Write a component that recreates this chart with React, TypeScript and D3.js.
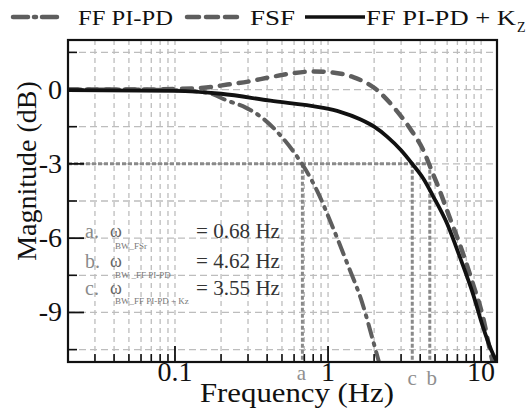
import React from "react";
import * as d3 from "d3";

const W = 530;
const H = 411;
const M = { left: 68, right: 497, top: 40, bottom: 362 };

const xDomain = [0.02, 12.7];
const yDomain = [-11, 2];

const xMajorTicks = [0.1, 1, 10];
const xMajorLabels = ["0.1", "1", "10"];
const xMinorTicks = [
  0.03, 0.04, 0.05, 0.06, 0.07, 0.08, 0.09,
  0.2, 0.3, 0.4, 0.5, 0.6, 0.7, 0.8, 0.9,
  2, 3, 4, 5, 6, 7, 8, 9,
];
const yMajorTicks = [0, -3, -6, -9];
const yMinorTicks = [1.5, -1.5, -4.5, -7.5, -10.5];

// FF PI-PD (dash-dot)
const ffFreq = [0.02, 0.05, 0.1, 0.16, 0.22, 0.29, 0.376, 0.49, 0.61, 0.7, 0.85, 1.08, 1.35, 1.67, 1.94, 2.15];
const ffMag = [0, 0, -0.03, -0.12, -0.45, -0.73, -1.17, -1.86, -2.6, -3.15, -4.1, -5.6, -7.1, -8.6, -10.0, -11.0];

// FSF (dashed)
const fsfFreq = [0.02, 0.06, 0.1, 0.16, 0.22, 0.3, 0.42, 0.58, 0.8, 1.03, 1.46, 2.03, 2.8, 3.5, 4.2, 4.75, 5.15, 6.26, 7.5, 8.9, 10.3, 11.4, 11.9];
const fsfMag = [0, 0, 0.02, 0.08, 0.2, 0.32, 0.5, 0.65, 0.73, 0.7, 0.5, 0.04, -0.85, -1.65, -2.46, -3.27, -3.8, -5.2, -6.5, -7.9, -9.2, -10.5, -11.0];

// FF PI-PD + Kz (solid)
const kzFreq = [0.02, 0.1, 0.2, 0.42, 0.89, 1.2, 1.62, 2, 2.43, 3, 3.55, 4.2, 4.85, 5.98, 7.3, 8.9, 10.3, 12, 12.7];
const kzMag = [-0.02, -0.05, -0.17, -0.45, -0.72, -0.9, -1.2, -1.5, -1.9, -2.45, -3.0, -3.6, -4.3, -5.4, -6.8, -8.3, -9.6, -10.7, -11.0];

const bwFreqs = [0.68, 4.62, 3.55];
const bwLetters = ["a", "b", "c"];
const bwSubs = ["BW_FSr", "BW _FF PI-PD", "BW_FF PI-PD + Kz"];
const bwValues = ["= 0.68 Hz", "= 4.62 Hz", "= 3.55 Hz"];
const bwLevel = -3;

const FONT = "Liberation Serif";

export default function App() {
  const x = d3.scaleLog().domain(xDomain).range([M.left, M.right]);
  const y = d3.scaleLinear().domain(yDomain).range([M.bottom, M.top]);
  const line = d3
    .line<[number, number]>()
    .x((d) => x(d[0]))
    .y((d) => y(d[1]))
    .curve(d3.curveMonotoneX);

  const ffData = ffFreq.map((f, i) => [f, ffMag[i]] as [number, number]);
  const fsfData = fsfFreq.map((f, i) => [f, fsfMag[i]] as [number, number]);
  const kzData = kzFreq.map((f, i) => [f, kzMag[i]] as [number, number]);

  const allX = [...xMinorTicks, ...xMajorTicks];
  const allY = [...yMinorTicks, ...yMajorTicks];
  const grid = "#bdbdbd";
  const refColor = "#8a8a8a";

  const annY = [238, 268, 295];
  const subY = [249, 278, 304];

  return (
    <svg width={W} height={H} style={{ position: "absolute", left: 0, top: 0, background: "#fff" }}>
      <defs>
        <clipPath id="plot">
          <rect x={M.left} y={M.top} width={M.right - M.left} height={M.bottom - M.top} />
        </clipPath>
      </defs>
      {/* grid */}
      {allX.map((t) => (
        <line key={"gx" + t} x1={x(t)} x2={x(t)} y1={M.top} y2={M.bottom} stroke={grid} strokeWidth={1.3} strokeDasharray="5,4" />
      ))}
      {allY.map((t) => (
        <line key={"gy" + t} x1={M.left} x2={M.right} y1={y(t)} y2={y(t)} stroke={grid} strokeWidth={1.3} strokeDasharray="7,4" />
      ))}

      {/* annotations */}
      {bwLetters.map((l, i) => (
        <g key={"ann" + l}>
          <text x={85} y={annY[i]} fontFamily={FONT} fontSize={20} fill="#8a8a8a">{l + "."}</text>
          <text x={110} y={annY[i] - 1} fontFamily={FONT} fontSize={18} fill="#666">ω</text>
          <text x={115} y={subY[i]} fontFamily={FONT} fontSize={9} fill="#777">{bwSubs[i]}</text>
          <text x={196} y={annY[i]} fontFamily={FONT} fontSize={20} fill="#333" textLength={84} lengthAdjust="spacingAndGlyphs">{bwValues[i]}</text>
        </g>
      ))}

      {/* reference lines */}
      <g clipPath="url(#plot)">
        <line x1={M.left} x2={x(bwFreqs[1])} y1={y(bwLevel)} y2={y(bwLevel)} stroke={refColor} strokeWidth={3} strokeDasharray="4,2" />
        {bwFreqs.map((f) => (
          <line key={"v" + f} x1={x(f)} x2={x(f)} y1={y(bwLevel)} y2={M.bottom} stroke={refColor} strokeWidth={3} strokeDasharray="4,2" />
        ))}
        {/* curves */}
        <path d={line(ffData) || ""} fill="none" stroke="#5e5e5e" strokeWidth={4} strokeDasharray="13,7,2,7" strokeLinecap="round" />
        <path d={line(fsfData) || ""} fill="none" stroke="#5e5e5e" strokeWidth={4.5} strokeDasharray="10,9" strokeLinecap="round" />
        <path d={line(kzData) || ""} fill="none" stroke="#111" strokeWidth={3.8} />
      </g>

      {/* ticks */}
      {xMinorTicks.map((t) => (
        <line key={"tx" + t} x1={x(t)} x2={x(t)} y1={M.bottom} y2={M.bottom - 8} stroke="#111" strokeWidth={1.6} />
      ))}
      {xMajorTicks.map((t) => (
        <line key={"tX" + t} x1={x(t)} x2={x(t)} y1={M.bottom} y2={M.bottom - 16} stroke="#111" strokeWidth={1.8} />
      ))}
      {yMinorTicks.map((t) => (
        <line key={"ty" + t} x1={M.left} x2={M.left + 9} y1={y(t)} y2={y(t)} stroke="#111" strokeWidth={1.6} />
      ))}
      {yMajorTicks.map((t) => (
        <line key={"tY" + t} x1={M.left} x2={M.left + 16} y1={y(t)} y2={y(t)} stroke="#111" strokeWidth={1.8} />
      ))}

      {/* frame */}
      <rect x={M.left} y={M.top} width={M.right - M.left} height={M.bottom - M.top} fill="none" stroke="#111" strokeWidth={2.2} />

      {/* tick labels */}
      {xMajorTicks.map((t, i) => (
        <text key={"lx" + t} x={x(t)} y={381} fontFamily={FONT} fontSize={28} textAnchor="middle" fill="#111">{xMajorLabels[i]}</text>
      ))}
      {yMajorTicks.map((t) => (
        <text key={"ly" + t} x={62} y={y(t) + 9} fontFamily={FONT} fontSize={28} textAnchor="end" fill="#111">{String(t)}</text>
      ))}
      {bwLetters.map((l, i) => (
        <text key={"bl" + l} x={x(bwFreqs[i]) + (l === "b" ? 2 : l === "a" ? -1 : 0)} y={l === "a" ? 380 : 385} fontFamily={FONT} fontSize={21} textAnchor="middle" fill="#8f8f8f">{l}</text>
      ))}

      {/* axis titles */}
      <text x={200} y={402} fontFamily={FONT} fontSize={28} fill="#111" textLength={194} lengthAdjust="spacingAndGlyphs">Frequency (Hz)</text>
      <text transform={`translate(36,171) rotate(-90)`} textAnchor="middle" fill="#111" fontFamily={FONT} fontSize={28}>
        Magnitude (dB)
      </text>

      {/* legend */}
      <line x1={13} x2={60} y1={17} y2={17} stroke="#5e5e5e" strokeWidth={4.5} strokeDasharray="15,6,2,6" strokeLinecap="round" />
      <text x={78} y={25} fontFamily={FONT} fontSize={22} fill="#111" textLength={95} lengthAdjust="spacingAndGlyphs">FF PI-PD</text>
      <line x1={187} x2={238} y1={17} y2={17} stroke="#5e5e5e" strokeWidth={4.5} strokeDasharray="12,7" strokeLinecap="round" />
      <text x={250} y={25} fontFamily={FONT} fontSize={22} fill="#111" textLength={45} lengthAdjust="spacingAndGlyphs">FSF</text>
      <line x1={305} x2={365} y1={17} y2={17} stroke="#111" strokeWidth={3.5} />
      <text x={366} y={25} fontFamily={FONT} fontSize={22} fill="#111" textLength={150} lengthAdjust="spacingAndGlyphs">FF PI-PD + K</text>
      <text x={517} y={32} fontFamily={FONT} fontSize={14} fill="#111">Z</text>
    </svg>
  );
}
